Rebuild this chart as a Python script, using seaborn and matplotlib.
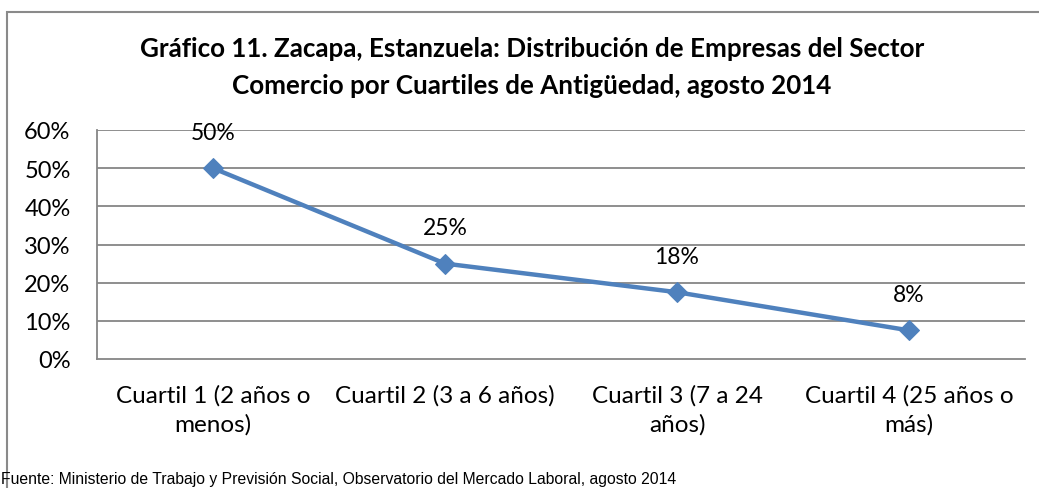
import pandas as pd
import matplotlib.pyplot as plt
import seaborn as sns
from matplotlib.patches import Rectangle

categorias = ['Cuartil 1 (2 años o\nmenos)', 'Cuartil 2 (3 a 6 años)',
              'Cuartil 3 (7 a 24\naños)', 'Cuartil 4 (25 años o\nmás)']
porcentajes = [0.50, 0.25, 0.175, 0.075]
etiquetas = ['50%', '25%', '18%', '8%']
yticks = [0, 0.1, 0.2, 0.3, 0.4, 0.5, 0.6]

sns.set_style('white')
plt.rcParams['font.family'] = ['Lato', 'DejaVu Sans']
plt.rcParams['text.color'] = 'black'
plt.rcParams['xtick.labelcolor'] = 'black'
plt.rcParams['ytick.labelcolor'] = 'black'

df = pd.DataFrame({'pos': range(len(categorias)), 'valor': porcentajes})

fig = plt.figure(figsize=(10.39, 4.89), dpi=100)
ax = fig.add_axes([97/1039, 1 - 360/489, (1025 - 97)/1039, (360 - 131)/489])

grid_col = '#868686'
for t in yticks[1:]:
    ax.axhline(t, color=grid_col, lw=1.3, zorder=0)

sns.lineplot(data=df, x='pos', y='valor', ax=ax, color='#4F81BD', lw=3.2,
             marker='D', markersize=10, markeredgecolor='#4F81BD')

for i, (v, lab) in enumerate(zip(porcentajes, etiquetas)):
    ax.annotate(lab, (i, v), xytext=(0, 26), textcoords='offset points',
                ha='center', va='center', fontsize=16.5, color='black')

ax.set_xlim(-0.5, len(categorias) - 0.5)
ax.set_ylim(0, 0.6)
ax.set_yticks(yticks)
ax.set_yticklabels([f'{int(round(t*100))}%' for t in yticks], fontsize=17)
ax.set_xticks([i - 0.5 for i in range(len(categorias) + 1)])
ax.set_xticklabels([])
ax.set_xticks(range(len(categorias)), minor=True)
ax.set_xticklabels(categorias, minor=True, fontsize=17.5, linespacing=1.42)
ax.tick_params(axis='x', which='major', length=8, width=1.3, color=grid_col, direction='out')
ax.tick_params(axis='x', which='minor', length=0, pad=18)
ax.tick_params(axis='y', length=7, width=1.3, color=grid_col, direction='out', pad=12)
ax.set_xlabel('')
ax.set_ylabel('')

for side in ['top', 'right']:
    ax.spines[side].set_visible(False)
for side in ['left', 'bottom']:
    ax.spines[side].set_color(grid_col)
    ax.spines[side].set_linewidth(1.3)

fig.text(532/1039, 1 - 49/489, 'Gráfico 11. Zacapa, Estanzuela: Distribución de Empresas del Sector',
         ha='center', va='center', fontsize=18.7, fontweight='bold')
fig.text(532/1039, 1 - 86/489, 'Comercio por Cuartiles de Antigüedad, agosto 2014',
         ha='center', va='center', fontsize=18.7, fontweight='bold')
fig.text(1/1039, 1 - 480/489,
         'Fuente: Ministerio de Trabajo y Previsión Social, Observatorio del Mercado Laboral, agosto 2014',
         ha='left', va='center', fontsize=11.3, family=['Liberation Sans Narrow', 'Liberation Sans'])

fig.patches.append(Rectangle((7/1039, -0.1), 1.2, 1.1 - 13/489, transform=fig.transFigure,
                             fill=False, edgecolor='#8a8a8a', lw=1.5))

fig.savefig('out.png', dpi=100)
